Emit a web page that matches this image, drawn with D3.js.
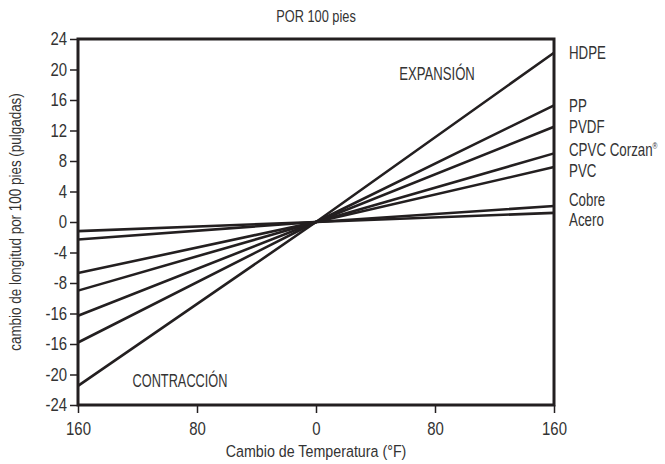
<!DOCTYPE html>
<html><head><meta charset="utf-8">
<script src="https://cdn.jsdelivr.net/npm/d3@7"></script>
<style>
body{margin:0;background:#fff;}
text{font-family:"Liberation Sans",Arial,sans-serif;fill:#333;}
</style></head><body>
<svg id="c" width="665" height="464"></svg>
<script>
// Data
const materials = ["HDPE","PP","PVDF","CPVC Corzan","PVC","Cobre","Acero"];
const tempLeft = -160, tempRight = 160;
const valuesAtMinus160 = [-21.5,-15.8,-12.3,-9.0,-6.7,-2.3,-1.2];
const valuesAtPlus160 = [22.2,15.3,12.5,9.0,7.2,2.1,1.2];
const xTickValues = [-160,-80,0,80,160];
const xTickLabels = ["160","80","0","80","160"];
const yTickValues = [24,20,16,12,8,4,0,-4,-8,-12,-16,-20,-24];
const yTickLabels = ["24","20","16","12","8","4","0","-4","-8","-16","-16","-20","-24"];

const SX = 0.84; // condensed look
const svg = d3.select("#c");
const m = {left:78, right:554, top:39, bottom:405};
const x = d3.scaleLinear().domain([-160,160]).range([m.left,m.right]);
const y = d3.scaleLinear().domain([-24,24]).range([m.bottom,m.top]);

function ctext(px, py, size, str, anchor, rot, sx){
  return svg.append("text")
    .attr("transform",`translate(${px},${py})${rot?` rotate(${rot})`:""} scale(${sx||SX},1)`)
    .attr("text-anchor",anchor||"start").attr("font-size",size).text(str);
}

// axes
const xAxis = d3.axisBottom(x).tickValues(xTickValues)
  .tickFormat((d,i)=>xTickLabels[i]).tickSize(8).tickSizeOuter(0).tickPadding(9);
const gx = svg.append("g").attr("transform",`translate(0,${m.bottom})`).call(xAxis);
gx.select(".domain").remove();
gx.selectAll("line").attr("stroke","#231f20").attr("stroke-width",1.5);
gx.selectAll("text").attr("font-size",18).attr("fill","#333").attr("transform",`scale(0.83,1)`);

const yAxis = d3.axisLeft(y).tickValues(yTickValues)
  .tickFormat((d,i)=>yTickLabels[i]).tickSize(8).tickSizeOuter(0).tickPadding(3);
const gy = svg.append("g").attr("transform",`translate(${m.left},0)`).call(yAxis);
gy.select(".domain").remove();
gy.selectAll("line").attr("stroke","#231f20").attr("stroke-width",1.5);
gy.selectAll("text").attr("font-size",18).attr("fill","#333")
  .attr("x",0).attr("transform",`translate(-11,0) scale(0.83,1)`);

// lines
const lineGen = d3.line().x(d=>x(d[0])).y(d=>y(d[1]));
materials.forEach((mat,i)=>{
  svg.append("path")
    .attr("d", lineGen([[tempLeft,valuesAtMinus160[i]],[0,0],[tempRight,valuesAtPlus160[i]]]))
    .attr("fill","none").attr("stroke","#231f20").attr("stroke-width",2.6);
});

// frame
svg.append("rect").attr("x",m.left).attr("y",m.top)
  .attr("width",m.right-m.left).attr("height",m.bottom-m.top)
  .attr("fill","none").attr("stroke","#231f20").attr("stroke-width",3);

// labels with collision avoidance
let ly = valuesAtPlus160.map(v=>y(v));
const gap = 20.5;
for(let it=0;it<50;it++){
  for(let i=0;i<ly.length-1;i++){
    const d = ly[i+1]-ly[i];
    if(d<gap){const s=(gap-d)/2; ly[i]-=s; ly[i+1]+=s;}
  }
}
materials.forEach((mat,i)=>{
  const t = ctext(569, ly[i], 18, mat, "start", 0, 0.74).attr("dy","0.36em");
  if(mat==="CPVC Corzan"){
    t.append("tspan").attr("font-size",9).attr("dy","-0.8em").text("®");
  }
});

// annotations
ctext(437, 80, 18, "EXPANSIÓN", "middle", 0, 0.73);
ctext(180, 387, 18, "CONTRACCIÓN", "middle", 0, 0.71);

// titles
ctext(316, 22, 16, "POR 100 pies", "middle", 0, 0.8);
ctext(316, 457, 17, "Cambio de Temperatura (°F)", "middle");
ctext(21, 222, 16, "cambio de longitud por 100 pies (pulgadas)", "middle", -90);
</script></body></html>
